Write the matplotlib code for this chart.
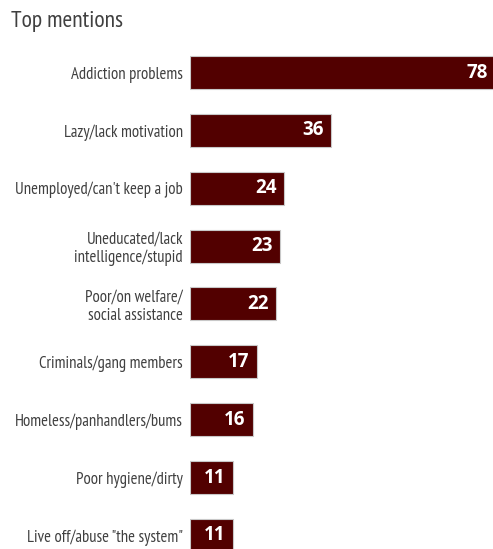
import matplotlib
matplotlib.use("Agg")
import matplotlib.pyplot as plt

categories = [
    "Addiction problems",
    "Lazy/lack motivation",
    "Unemployed/can't keep a job",
    "Uneducated/lack\nintelligence/stupid",
    "Poor/on welfare/\nsocial assistance",
    "Criminals/gang members",
    "Homeless/panhandlers/bums",
    "Poor hygiene/dirty",
    'Live off/abuse "the system"',
]
values = [78, 36, 24, 23, 22, 17, 16, 11, 11]
title = "Top mentions"

narrow = ["PT Sans Narrow", "DejaVu Sans"]

W, H = 493, 549
fig = plt.figure(figsize=(W / 100, H / 100), dpi=100)
top_px = 44
ax = fig.add_axes([190 / W, 0, 1 - 190 / W, (H - top_px) / H])

ypos = list(range(len(values)))
ax.barh(ypos, values, height=0.57, color="#520000", edgecolor="#c8c8c8", linewidth=0.8, left=0)
ax.set_xlim(0, 77.3)
ax.set_ylim(8.235, -0.4926)

ax.set_yticks(ypos)
ax.set_yticklabels(categories, fontfamily=narrow, fontsize=12, color="#404040",
                   linespacing=1.15, ha="right")
ax.tick_params(axis="y", length=0, pad=5)
ax.set_xticks([])
for s in ax.spines.values():
    s.set_visible(False)

for y, v in zip(ypos, values):
    ax.annotate(str(v), xy=(v, y), xytext=(-5.5, 0), textcoords="offset points",
                ha="right", va="center", color="white", fontsize=13.5,
                fontweight="bold", fontfamily="Open Sans", annotation_clip=False)

fig.text(11 / W, 1 - 22 / H, title, fontfamily=narrow, fontsize=17, color="#404040",
         ha="left", va="center")

fig.savefig("out.png", dpi=100)
